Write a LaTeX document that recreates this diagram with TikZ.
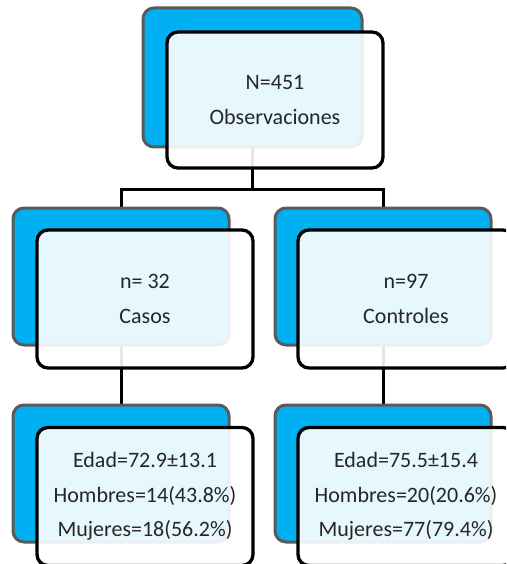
\documentclass[tikz,border=0pt]{standalone}
\usepackage{fontspec}
\setmainfont{Carlito}
\usetikzlibrary{backgrounds}
\definecolor{skyb}{HTML}{00B0F0}
\definecolor{backline}{HTML}{5A5A5A}
\definecolor{txt}{HTML}{262626}
\tikzset{
  backbox/.style={draw=backline, line width=3pt, fill=skyb, rounded corners=11pt,
    minimum width=216pt, minimum height=137pt, inner sep=0pt},
  frontbox/.style={draw=black, line width=3.3pt, fill=white, fill opacity=0.9, text opacity=1,
    rounded corners=11pt, minimum width=216pt, minimum height=137pt, inner sep=0pt,
    align=center, text=txt, font=\fontsize{22}{34.5}\selectfont},
  conn/.style={draw=black, line width=3pt}
}
\begin{document}
\begin{tikzpicture}[x=1pt,y=-1pt]
\useasboundingbox (0,0) rectangle (506,564);
\clip (0,0) rectangle (506,564);
% top
\node[backbox, minimum width=219pt, minimum height=139pt] (tb) at (252.5,77.5) {};
\node[frontbox, minimum height=136pt] (tf) at (275,100) {N=451\\Observaciones};
% middle
\node[backbox] (mlb) at (121,276.5) {};
\node[frontbox, minimum height=138pt] (mlf) at (145,299) {n= 32\\Casos};
\node[backbox] (mrb) at (383,276.5) {};
\node[frontbox, minimum height=138pt] (mrf) at (406,299) {n=97\\Controles};
% bottom
\node[backbox] (blb) at (121,473.5) {};
\node[frontbox, minimum height=138pt] (blf) at (145,496.5) {Edad=72.9±13.1\\Hombres=14(43.8\%)\\Mujeres=18(56.2\%)};
\node[backbox] (brb) at (383,473.5) {};
\node[frontbox, minimum height=138pt] (brf) at (406,496.5) {Edad=75.5±15.4\\Hombres=20(20.6\%)\\Mujeres=77(79.4\%)};
% connectors
\coordinate (j) at (252.5,189);
\begin{pgfonlayer}{background}
\draw[conn] (tb.center) -- (j);
\draw[conn] (mlb.center) |- (j) -| (mrb.center);
\draw[conn] (mlb.center) -- (blb.center);
\draw[conn] (mrb.center) -- (brb.center);
\end{pgfonlayer}
\end{tikzpicture}
\end{document}
